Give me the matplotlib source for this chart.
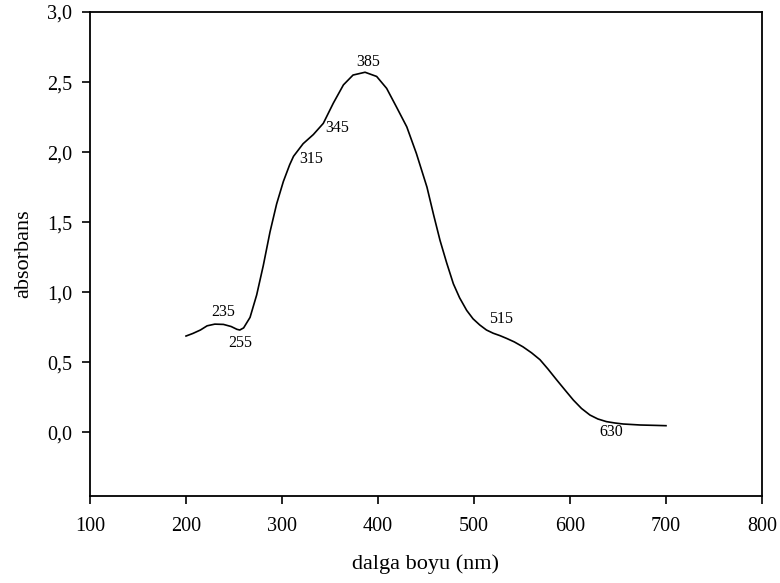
import matplotlib
matplotlib.use("Agg")
import matplotlib.pyplot as plt
from matplotlib.ticker import FuncFormatter

plt.rcParams['font.family'] = ['Liberation Serif', 'DejaVu Serif']

wavelength = [200, 207, 215, 222, 230, 239, 247, 253, 256, 260, 266.7, 273.6, 280.5,
              287.5, 294.4, 301.4, 308, 312, 322, 332.6, 343, 353.5, 364, 374, 386.5,
              398.6, 409, 419.4, 430, 440, 451, 458, 464.6, 471.5, 478.5, 485, 492.4,
              499, 506, 513, 520, 527, 534, 542, 551, 560, 568.75, 577, 586, 595,
              603.5, 612, 620.8, 629, 638, 647, 655.5, 673, 690, 700]
absorbance = [0.687, 0.705, 0.73, 0.76, 0.772, 0.77, 0.755, 0.735, 0.73, 0.745, 0.82,
              0.98, 1.19, 1.43, 1.63, 1.79, 1.91, 1.97, 2.06, 2.125, 2.205, 2.35, 2.48,
              2.55, 2.57, 2.54, 2.455, 2.32, 2.18, 1.99, 1.75, 1.55, 1.37, 1.21, 1.06,
              0.96, 0.87, 0.81, 0.766, 0.73, 0.707, 0.69, 0.67, 0.645, 0.61, 0.567,
              0.518, 0.452, 0.375, 0.30, 0.23, 0.17, 0.123, 0.095, 0.076, 0.066, 0.059,
              0.052, 0.049, 0.047]

peak_labels = ["235", "255", "315", "345", "385", "515", "630"]
peak_label_x = [239, 257, 330, 357.6, 390, 528, 642.7]
peak_label_y = [0.856, 0.64, 1.95, 2.17, 2.64, 0.81, 0.0]

x_ticks = [100, 200, 300, 400, 500, 600, 700, 800]
y_ticks = [0.0, 0.5, 1.0, 1.5, 2.0, 2.5, 3.0]

fig = plt.figure(figsize=(7.8, 5.83), dpi=100)
ax = fig.add_axes([0.1154, 0.1492, 0.8615, 0.8302])

ax.plot(wavelength, absorbance, color='black', linewidth=1.2,
        solid_joinstyle='round', antialiased=True)

for t, x, y in zip(peak_labels, peak_label_x, peak_label_y):
    ax.text(x, y, t, ha='center', va='center', fontsize=11.5)

ax.set_xlim(100, 800)
ax.set_ylim(-0.455, 3.0)
ax.set_xticks(x_ticks)
ax.set_yticks(y_ticks)
ax.yaxis.set_major_formatter(FuncFormatter(lambda v, p: f"{v:.1f}".replace('.', ',')))
ax.tick_params(axis='x', direction='out', length=6, width=1.2, pad=9, labelsize=14.5)
ax.tick_params(axis='y', direction='out', length=6, width=1.2, pad=7, labelsize=14.5)
for s in ax.spines.values():
    s.set_linewidth(1.3)

ax.set_xlabel("dalga boyu (nm)", fontsize=16, labelpad=13)
ax.set_ylabel("absorbans", fontsize=16, labelpad=10)

fig.savefig("out.png", dpi=100)
